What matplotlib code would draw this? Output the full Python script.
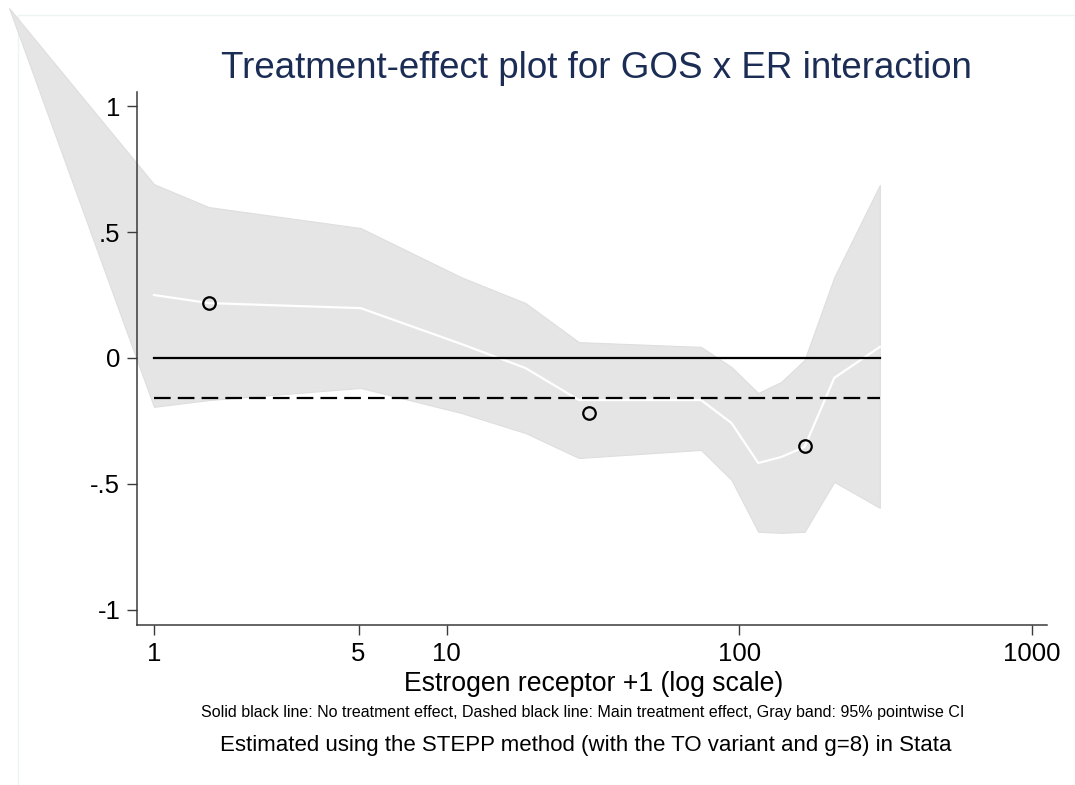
import matplotlib
matplotlib.use("Agg")
import matplotlib.pyplot as plt
from matplotlib.patches import Rectangle

plt.rcParams['font.family'] = ['Liberation Sans', 'DejaVu Sans']

# Band (95% pointwise CI) vertices: ER+1 values, lower and upper limits
band_x = [0.32, 1.0, 1.54, 5.08, 11.2, 18.6, 28.3, 74, 94, 116, 139, 167, 211, 302]
band_lower = [1.389, -0.194, -0.167, -0.119, -0.218, -0.298, -0.397, -0.365, -0.484, -0.690, -0.694, -0.690, -0.492, -0.595]
band_upper = [1.389, 0.690, 0.599, 0.516, 0.321, 0.218, 0.063, 0.044, -0.036, -0.139, -0.095, -0.008, 0.321, 0.687]

# Estimated treatment effect (white line)
eff_x = [1.0, 1.54, 5.08, 11.2, 18.6, 28.3, 74, 94, 116, 139, 167, 211, 302]
eff_y = [0.25, 0.218, 0.198, 0.056, -0.040, -0.167, -0.167, -0.258, -0.417, -0.393, -0.353, -0.079, 0.044]

# Subgroup point estimates (hollow circles)
pt_x = [1.54, 30.6, 167]
pt_y = [0.218, -0.218, -0.349]

line_x = [1.0, 302]
no_effect = 0.0
main_effect = -0.159

xticks = [1, 5, 10, 100, 1000]
xtick_labels = ["1", "5", "10", "100", "1000"]
yticks = [-1, -0.5, 0, 0.5, 1]
ytick_labels = ["-1", "-.5", "0", ".5", "1"]

title = "Treatment-effect plot for GOS x ER interaction"
xlabel = "Estrogen receptor +1 (log scale)"
note1 = "Solid black line: No treatment effect, Dashed black line: Main treatment effect, Gray band: 95% pointwise CI"
note2 = "Estimated using the STEPP method (with the TO variant and g=8) in Stata"

W, H = 1075, 785
fig = plt.figure(figsize=(W / 100, H / 100), dpi=100)
fig.patch.set_facecolor("white")

# faint graph-region outline
fig.add_artist(Rectangle((18 / W, -0.05), 1.2, 1 - 15 / H + 0.05, transform=fig.transFigure,
                         fill=False, edgecolor="#eef3f4", lw=1.0, zorder=0))

ax = fig.add_axes([137 / W, 1 - 625 / H, (1047 - 137) / W, (625 - 92) / H])
ax.set_facecolor("none")
ax.set_xscale("log")
ax.set_xlim(0.875, 1125)
ax.set_ylim(-1.06, 1.056)

ax.fill_between(band_x, band_lower, band_upper, facecolor="#e5e5e5", edgecolor="#dedede",
                lw=0.8, clip_on=False, zorder=1)
ax.plot(eff_x, eff_y, color="white", lw=1.6, zorder=2)
ax.plot(line_x, [no_effect, no_effect], color="black", lw=1.6, zorder=3)
ax.plot(line_x, [main_effect, main_effect], color="black", lw=1.6, dashes=(7.5, 3.2), zorder=3)
ax.plot(pt_x, pt_y, linestyle="none", marker="o", markersize=9, markerfacecolor="none",
        markeredgecolor="black", markeredgewidth=1.6, zorder=4)

for s in ["top", "right"]:
    ax.spines[s].set_visible(False)
for s in ["left", "bottom"]:
    ax.spines[s].set_color("#3a3a3a")
    ax.spines[s].set_linewidth(1.1)

ax.set_xticks(xticks)
ax.set_xticklabels(xtick_labels)
ax.xaxis.set_minor_locator(matplotlib.ticker.NullLocator())
ax.set_yticks(yticks)
ax.set_yticklabels(ytick_labels)
ax.tick_params(axis="both", which="major", length=7, width=1.0, color="#3a3a3a",
               labelsize=18.5, labelcolor="black")
ax.tick_params(axis="x", pad=5)
ax.tick_params(axis="y", pad=5)

fig.text(596 / W, 1 - 68 / H, title, ha="center", va="center", fontsize=26.5, color="#1c2d55")
fig.text(594 / W, 1 - 684 / H, xlabel, ha="center", va="center", fontsize=19.2)
fig.text(583 / W, 1 - 713 / H, note1, ha="center", va="center", fontsize=11.5)
fig.text(586 / W, 1 - 745 / H, note2, ha="center", va="center", fontsize=16)

fig.savefig("out.png", dpi=100)
